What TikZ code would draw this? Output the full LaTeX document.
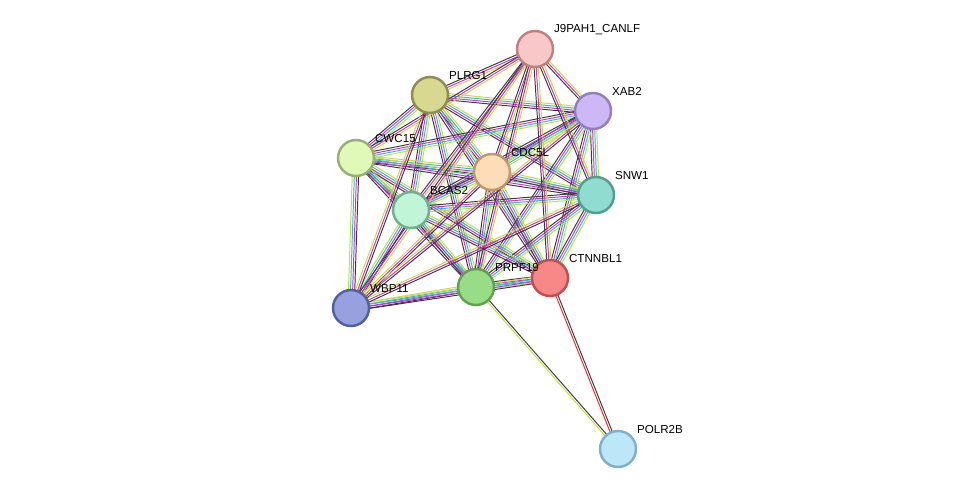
\documentclass[tikz,border=0pt]{standalone}
\usepackage{fontspec}
\setmainfont{Liberation Sans}
\usetikzlibrary{calc,backgrounds}

\definecolor{coex}{HTML}{3A3A3A}
\definecolor{exper}{HTML}{D030D0}
\definecolor{dbase}{HTML}{30B8D8}
\definecolor{txtm}{HTML}{C4DC3C}
\definecolor{fus}{HTML}{E03030}

\tikzset{
  prot/.style={circle,draw,line width=1.4pt,minimum size=0.72cm,inner sep=0pt},
  lab/.style={font=\fontsize{6.6}{8}\selectfont,anchor=south west,inner sep=1pt},
  edge/.style={line width=0.55pt}
}

% parallel coloured strands between two nodes
\newcommand{\ev}[3]{%
  \foreach \c/\o in #3 {%
    \draw[edge,\c] ($(#1)!\o pt!90:(#2)$) -- ($(#2)!\o pt!-90:(#1)$);}}
\def\fourc{coex/-1.8,exper/-0.6,dbase/0.6,txtm/1.8}
\def\threec{coex/-1.2,exper/0,txtm/1.2}
\def\twoc{coex/-0.6,txtm/0.6}
\def\redc{coex/-0.6,fus/0.6}

\begin{document}
\begin{tikzpicture}[x=0.02cm,y=-0.02cm]
  \useasboundingbox (0,0) rectangle (976,494);

  % proteins
  \node[prot,fill={rgb,255:red,248;green,200;blue,200},draw={rgb,255:red,192;green,128;blue,128}] (jp) at (535,49) {};
  \node[prot,fill={rgb,255:red,216;green,216;blue,144},draw={rgb,255:red,142;green,142;blue,80}] (plrg) at (430,95) {};
  \node[prot,fill={rgb,255:red,205;green,184;blue,245},draw={rgb,255:red,144;green,128;blue,192}] (xab) at (593,111) {};
  \node[prot,fill={rgb,255:red,224;green,248;blue,184},draw={rgb,255:red,154;green,176;blue,112}] (cwc) at (356,158) {};
  \node[prot,fill={rgb,255:red,253;green,221;blue,184},draw={rgb,255:red,192;green,152;blue,112}] (cdc) at (492,172) {};
  \node[prot,fill={rgb,255:red,144;green,220;blue,208},draw={rgb,255:red,80;green,160;blue,144}] (snw) at (596,195) {};
  \node[prot,fill={rgb,255:red,192;green,245;blue,216},draw={rgb,255:red,112;green,176;blue,144}] (bcas) at (411,210) {};
  \node[prot,fill={rgb,255:red,248;green,136;blue,136},draw={rgb,255:red,192;green,80;blue,80}] (ctn) at (550,278) {};
  \node[prot,fill={rgb,255:red,152;green,220;blue,136},draw={rgb,255:red,96;green,160;blue,80}] (prp) at (476,287) {};
  \node[prot,fill={rgb,255:red,152;green,160;blue,224},draw={rgb,255:red,80;green,96;blue,160}] (wbp) at (351,308) {};
  \node[prot,fill={rgb,255:red,189;green,230;blue,248},draw={rgb,255:red,128;green,176;blue,200}] (pol) at (618,449) {};

  % labels
  \node[lab] at ($(jp)+(17,-12)$) {J9PAH1\_CANLF};
  \node[lab] at ($(plrg)+(17,-13)$) {PLRG1};
  \node[lab] at ($(xab)+(17,-13)$) {XAB2};
  \node[lab] at ($(cwc)+(17,-13)$) {CWC15};
  \node[lab] at ($(cdc)+(17,-13)$) {CDC5L};
  \node[lab] at ($(snw)+(17,-13)$) {SNW1};
  \node[lab] at ($(bcas)+(17,-13)$) {BCAS2};
  \node[lab] at ($(ctn)+(17,-13)$) {CTNNBL1};
  \node[lab] at ($(prp)+(17,-13)$) {PRPF19};
  \node[lab] at ($(wbp)+(17,-13)$) {WBP11};
  \node[lab] at ($(pol)+(17,-13)$) {POLR2B};

  % interactions
  \begin{pgfonlayer}{background}
    \foreach \a/\b in {plrg/xab,plrg/cwc,plrg/cdc,plrg/snw,plrg/bcas,plrg/ctn,plrg/prp,
        xab/cwc,xab/cdc,xab/snw,xab/bcas,xab/ctn,xab/prp,
        cwc/cdc,cwc/snw,cwc/bcas,cwc/ctn,cwc/prp,
        cdc/snw,cdc/bcas,cdc/ctn,cdc/prp,
        snw/bcas,snw/ctn,snw/prp,
        bcas/ctn,bcas/prp,ctn/prp,
        wbp/cwc,wbp/bcas,wbp/prp,wbp/ctn}
      {\ev{\a}{\b}{\fourc}}
    \foreach \b in {plrg,xab,cwc,cdc,snw,bcas,ctn,prp,wbp}
      {\ev{jp}{\b}{\threec}}
    \foreach \b in {cdc,snw,plrg,xab}
      {\ev{wbp}{\b}{\threec}}
    \ev{pol}{ctn}{\redc}
    \ev{pol}{prp}{\twoc}
  \end{pgfonlayer}
\end{tikzpicture}
\end{document}
